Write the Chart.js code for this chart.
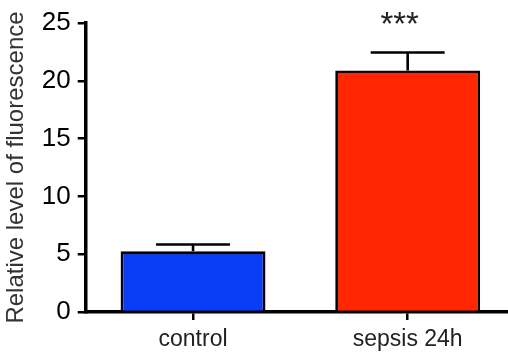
<!DOCTYPE html>
<html>
<head>
<meta charset="utf-8">
<script src="https://cdn.jsdelivr.net/npm/chart.js@4"></script>
<style>
  html, body { margin: 0; padding: 0; overflow: hidden; background: #fff; }
  #wrap { width: 515px; height: 356px; }
</style>
</head>
<body>
<div id="wrap"><canvas id="chart"></canvas></div>
<script>
const groups = ["control", "sepsis 24h"];
const means = [5.26, 20.9];
const sem = [0.58, 1.55];
const barColors = ["#0A3CF5", "#FF2600"];
const marks = ["", "***"];
const yTicks = [0, 5, 10, 15, 20, 25];

// error bars + significance stars
const errorBars = {
  id: "errorBars",
  afterDatasetsDraw(chart) {
    const ctx = chart.ctx;
    const y = chart.scales.y;
    const meta = chart.getDatasetMeta(0);
    ctx.save();
    ctx.strokeStyle = "#000";
    ctx.lineWidth = 2.6;
    meta.data.forEach((bar, i) => {
      const top = y.getPixelForValue(means[i] + sem[i]);
      ctx.beginPath();
      ctx.moveTo(bar.x, bar.y);
      ctx.lineTo(bar.x, top);
      ctx.moveTo(bar.x - 37, top);
      ctx.lineTo(bar.x + 37, top);
      ctx.stroke();
      if (marks[i]) {
        ctx.fillStyle = "#222";
        ctx.font = "33px 'Liberation Sans', Arial, sans-serif";
        ctx.textAlign = "center";
        ctx.textBaseline = "alphabetic";
        ctx.fillText(marks[i], bar.x - 8, top - 17);
      }
    });
    ctx.restore();
  }
};

new Chart(document.getElementById("chart"), {
  type: "bar",
  data: {
    labels: groups,
    datasets: [{
      data: means,
      backgroundColor: barColors,
      borderColor: "#000",
      borderWidth: 2.7,
      categoryPercentage: 1,
      barPercentage: 0.675
    }]
  },
  plugins: [errorBars],
  options: {
    responsive: true,
    maintainAspectRatio: false,
    animation: false,
    layout: { padding: { top: 23, right: 0, bottom: -3, left: 0 } },
    plugins: { legend: { display: false }, tooltip: { enabled: false } },
    scales: {
      x: {
        grid: { offset: false, drawOnChartArea: false, tickLength: 8, tickColor: "#000", lineWidth: 2.5 },
        border: { display: true, color: "#000", width: 3.5 },
        ticks: { color: "#222", padding: 8, font: { family: "'Liberation Sans', Arial, sans-serif", size: 23, lineHeight: 1 } }
      },
      y: {
        min: 0,
        max: 25,
        afterBuildTicks: (s) => { s.ticks = yTicks.map(v => ({ value: v })); },
        grid: { drawOnChartArea: false, tickLength: 8, tickColor: "#000", lineWidth: 2.5 },
        border: { display: true, color: "#000", width: 3.5 },
        ticks: { color: "#000", padding: 7, font: { family: "'Liberation Sans', Arial, sans-serif", size: 26 } },
        title: {
          display: true,
          text: "Relative level of fluorescence",
          color: "#333",
          padding: { top: 2, bottom: 4 },
          font: { family: "'Liberation Sans', Arial, sans-serif", size: 24 }
        }
      }
    }
  }
});
</script>
</body>
</html>
